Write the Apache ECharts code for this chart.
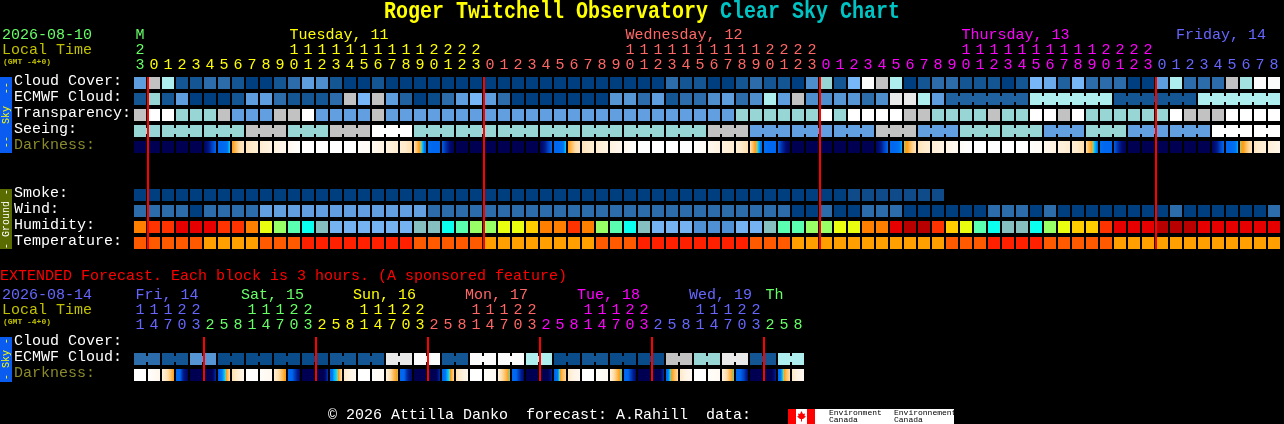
<!DOCTYPE html>
<html><head><meta charset="utf-8">
<style>html,body{margin:0;padding:0;background:#000}#c{width:1284px;height:424px}</style>
<script src="https://cdn.jsdelivr.net/npm/echarts@6/dist/echarts.min.js"></script>
</head><body><div id="c"></div>
<script>
// ---------- data ----------
const hoursMain = [23,
 0,1,2,3,4,5,6,7,8,9,10,11,12,13,14,15,16,17,18,19,20,21,22,23,
 0,1,2,3,4,5,6,7,8,9,10,11,12,13,14,15,16,17,18,19,20,21,22,23,
 0,1,2,3,4,5,6,7,8,9,10,11,12,13,14,15,16,17,18,19,20,21,22,23,
 0,1,2,3,4,5,6,7,8];
const dayNamesMain = {0:'M',11:'Tuesday, 11',35:'Wednesday, 12',59:'Thursday, 13',74:'Friday, 14'};
const dayBreaksMain = [0,1,25,49,73];
const midnightsMain = [1,25,49,73];
const rowsMain = ['Cloud Cover:','ECMWF Cloud:','Transparency:','Seeing:','Darkness:','',' ','Smoke:','Wind:','Humidity:','Temperature:'];

const cloudCover = [40,80,70,10,10,20,20,10,0,0, 10,20,40,30,10,0,0,10,0,0, 0,0,0,0,0,0,0,0,0,0, 0,0,0,0,0,0,0,0,20,10,
 10,0,0,10,20,10,10,0,30,60, 10,50,100,80,70,0,10,20,20,10, 10,10,0,10,50,45,15,50,20,20, 20,0,0,40,70,20,20,20,80,65, 100,100];
const ecmwfCloud = [10,60,10,40,0,0,0,10,40,40, 20,10,10,10,20,80,50,80,40,15, 0,5,20,40,50,40,20,0,0,0, 0,0,0,0,35,35,20,40,10,20,
 20,30,40,20,30,70,40,80,30,30, 35,35,20,30,90,90,70,40,15,15, 15,15,15,15,70,70,70,70,70,70, 10,10,10,10,10,10,70,70,70,70, 70,70];
const transparency = 'GWWTTTGBBB GGWBBBBGBB BBBBBBBBBB BBBBBBBBBB BBBTTTTTTW TWWWWGGTTT TGTTWWGWTT TTTTWGGGWW WW'.replace(/ /g,'').split('');
const seeing       = 'TTTTTTTTGG GTTTGGGWWW TTTTTTTTTT TTTTTTTTTT TGGGBBBBBB BBBGGGBBBT TTTTTBBBTT TBBBBBBWWW WW'.replace(/ /g,'').split('');
const smoke = [0,0,0,0,0,0,0,0,0,0, 0,0,0,0,0,0,0,0,0,0, 0,0,0,0,0,0,0,0,0,0, 0,0,0,0,0,0,0,0,0,0, 0,0,0,0,0,0,0,0,0,0, 0,1,1,1,1,1,1,1];
const wind = 'MMMMDMMMML LLLLLLLLLL LMMMMMMMMM MMMMMMMMMM MMMMMMMDDM DDMMMDDDDD DMMMDMDDDD DDDDMDDDDD DM'.replace(/ /g,'').split('');
const humidity = [70,75,75,80,80,80,75,75,70,60, 55,50,45,40,35,35,35,35,35,35, 40,40,45,50,55,55,60,60,65,70, 70,75,70,55,50,45,40,35,35,35,
 30,30,30,35,35,40,50,50,55,55, 60,60,70,70,80,85,85,75,65,60, 50,45,40,40,45,55,60,65,65,75, 80,80,80,85,85,85,80,80,80,80, 80,80];
const temperature = [73,73,73,73,73,64,64,64,64,73, 73,73,82,82,82,82,82,82,82,82, 73,73,73,73,73,64,64,64,64,64, 64,64,64,73,73,73,82,82,82,82,
 82,82,82,82,73,73,73,64,64,64, 64,64,64,64,64,64,64,64,73,73, 73,82,82,82,82,73,73,73,73,73, 64,64,64,64,64,64,64,64,64,64, 64,64];
const N=[0,0,0,0], W=[100,100,100,100];
const darkness = [N,N,N,N,N,[5,15,30,40],[40,40,42,50],[54,62,72,76],[74,77,80,82],[80,83,85,88],
 [85,88,90,92],[92,95,97,99],W,W,W,W,[99,97,96,95],[92,90,88,86],[86,84,82,80],[82,80,76,72],
 [72,58,50,42],[42,40,40,40],[38,25,10,2],N,N,N,N,N,N,[5,15,30,40],
 [40,40,42,50],[54,62,72,76],[74,77,80,82],[80,83,85,88],[85,88,90,92],[92,95,97,99],W,W,W,W,
 [99,97,96,95],[92,90,88,86],[86,84,82,80],[82,80,76,72],[72,58,50,42],[42,40,40,40],[38,25,10,2],N,N,N,
 N,N,N,[5,15,30,40],[40,40,42,48],[52,56,66,74],[74,77,80,82],[82,84,86,88],[88,90,92,93],[96,98,99,100],
 W,W,W,W,[99,97,96,95],[92,90,88,86],[86,84,82,80],[82,80,76,72],[70,58,50,44],[42,40,40,40],
 [38,25,10,2],N,N,N,N,N,N,[5,15,30,40],[40,40,42,48],[52,56,66,74],
 [76,79,82,84],[82,85,87,90]];

const hoursExt = [11,14,17,20,23, 2,5,8,11,14,17,20,23, 2,5,8,11,14,17,20,23, 2,5,8,11,14,17,20,23, 2,5,8,11,14,17,20,23, 2,5,8,11,14,17,20,23, 2,5,8];
const dayNamesExt = {0:'Fri, 14',8:'Sat, 15',16:'Sun, 16',24:'Mon, 17',32:'Tue, 18',40:'Wed, 19',45:'Th'};
const dayBreaksExt = [0,5,13,21,29,37,45];
const midnightsExt = [5,13,21,29,37,45];
const rowsExt = ['Cloud Cover:','ECMWF Cloud:','Darkness:'];
const ecmwfExt = [20,20,10,10,35,35,5,5,5,5,5,5,5,5,10,10,10,10,90,90,100,100,10,10,
 100,100,100,100,70,70,5,5,10,10,5,5,5,5,80,80,60,60,90,90,10,10,70,70];
const darknessExt = [W,[99,96,93,92],[85,75,65,54],[40,40,15,5],N,[0,0,0,25],[35,45,52,70],[72,78,85,90],
 W,[97,95,94,93],[82,72,62,53],[40,40,25,8],N,[0,0,0,28],[40,48,52,72],[78,84,90,92],
 W,[98,96,95,94],[85,72,60,52],[40,40,20,8],N,[0,0,0,25],[38,46,52,68],[72,80,86,90],
 W,[98,96,95,94],[85,70,60,50],[40,40,25,8],N,[0,0,0,20],[38,46,60,68],[78,85,90,92],
 W,[98,96,95,94],[85,70,58,50],[40,40,25,8],N,[0,0,0,25],[40,50,60,70],[78,85,90,93],
 W,[98,96,95,94],[85,72,60,50],[40,40,30,10],N,[0,0,0,20],[40,48,60,70],[78,85,90,93]];

// ---------- colour scales ----------
const cloudScale = ['#003f7f','#135693','#2c6cab','#4e8ecc','#5e9dde','#77b7f7','#98d5d5','#afeeee','#c2c2c2','#e9e9e9','#fbfbfb'];
const classScale = {B:'#619fe0',T:'#98d5d5',G:'#c2c2c2',W:'#ffffff'};
const windScale = {D:'#003f7f',M:'#2c6cab',L:'#619fe0'};
const smokeScale = ['#003f7f','#0e4b88'];
const humidityScale = {30:'#4f8fd3',35:'#74b2f2',40:'#85bfbf',45:'#0affee',50:'#5affb0',55:'#99ff66',60:'#eaff10',65:'#ffcc00',70:'#ff8000',75:'#ff3300',80:'#e60000',85:'#b80000'};
const tempScale = {64:'#ffa000',73:'#ff5a00',82:'#ff2000'};
const darkStops = [[0,'#000052'],[10,'#000a70'],[20,'#001f90'],[30,'#0040c0'],[40,'#0068f0'],[45,'#0078f0'],[48,'#00b0ff'],[50,'#10d0f0'],[52,'#a0d080'],[54,'#ff9a10'],[60,'#ffb850'],[70,'#ffdca8'],[80,'#ffeccf'],[90,'#fff6ea'],[100,'#ffffff']];
const hex = c => [1,3,5].map(k => parseInt(c.substr(k,2),16));
const mix = (a,b,t) => { const A=hex(a),B=hex(b); return 'rgb('+A.map((v,k)=>Math.round(v+(B[k]-v)*t)).join(',')+')'; };
const cloudColor = p => { const f=p/10, k=Math.min(Math.floor(f),9); return mix(cloudScale[k],cloudScale[k+1],f-k); };
const darkColor = v => { for(let k=0;k<darkStops.length-1;k++){const a=darkStops[k],b=darkStops[k+1]; if(v<=b[0]) return mix(a[1],b[1],(v-a[0])/(b[0]-a[0]));} return '#ffffff'; };

// ---------- rendering helpers ----------
const FONT = '"Liberation Mono", monospace';
const GREEN='#66ff66', YELLOW='#ffff00', SALMON='#ff6666', MAGENTA='#ff00ff', BLUE='#6666ff', OLIVE='#c0c000';
const breakColors = (breaks, cols) => i => { let c=cols[0]; breaks.forEach((b,k)=>{ if(i>=b) c=cols[k]; }); return c; };
const mainColor = breakColors(dayBreaksMain,[GREEN,YELLOW,SALMON,MAGENTA,BLUE]);
const extColor  = breakColors(dayBreaksExt,[BLUE,GREEN,YELLOW,SALMON,MAGENTA,BLUE,GREEN]);

function cellBox(api){
  const p = api.coord([api.value(0), api.value(1)]);
  return {x:p[0]-6, y:p[1]-6, w:12, h:12};
}
// joined(i) tells whether cell i is linked to cell i+1 by a narrow neck
function cellSeries(name, grid, row, vals, color, joined){
  const data = vals.map((v,i)=>[i,row,v]);
  return {type:'custom', name, xAxisIndex:grid.x, yAxisIndex:grid.y, silent:true, encode:{x:0,y:1}, data,
    renderItem:(p,api)=>{
      const b=cellBox(api), i=api.value(0), fill=color(vals[i]);
      const kids=[{type:'rect',shape:{x:b.x,y:b.y,width:b.w,height:b.h},style:{fill}}];
      if(joined && joined(i) && i<vals.length-1)
        kids.push({type:'rect',shape:{x:b.x+b.w,y:b.y+3,width:2,height:6},style:{fill}});
      return {type:'group',children:kids};
    }};
}
function darkSeries(name, grid, row, vals){
  return {type:'custom', name, xAxisIndex:grid.x, yAxisIndex:grid.y, silent:true, encode:{x:0,y:1},
    data: vals.map((v,i)=>[i,row].concat(v)),
    renderItem:(p,api)=>{
      const b=cellBox(api), s=[2,3,4,5].map(k=>api.value(k)), colorStops=[];
      for(let px=0;px<12;px++){
        const t=(px+.5)/12*3, k=Math.min(Math.floor(t),2), c=darkColor(s[k]+(s[k+1]-s[k])*(t-k));
        colorStops.push({offset:px/12,color:c},{offset:(px+1)/12,color:c});
      }
      return {type:'rect',shape:{x:b.x,y:b.y,width:b.w,height:b.h},
        style:{fill:new echarts.graphic.LinearGradient(0,0,1,0,colorStops)}};
    }};
}
function lineSeries(name, grid, idx, lastRow){
  return {type:'custom', name, xAxisIndex:grid.x, yAxisIndex:grid.y, silent:true, z:10, encode:{x:0,y:1},
    data: idx.map(i=>[i,0]),
    renderItem:(p,api)=>{
      const a=api.coord([api.value(0),0]), z=api.coord([api.value(0),lastRow]);
      return {type:'rect',shape:{x:a[0]-7,y:a[1]-6,width:2,height:z[1]-a[1]+12},style:{fill:'#ff0000'}};
    }};
}
function topAxis(gridIndex, data, offset, color, extra){
  return {type:'category', gridIndex, position:'top', offset, data,
    axisLine:{show:false}, axisTick:{show:false}, splitLine:{show:false},
    axisLabel:Object.assign({interval:0, margin:10, verticalAlign:'middle', color:(v,i)=>color(i),
      fontFamily:FONT, fontSize:15, fontWeight:'normal'}, extra||{})};
}
function rowAxis(gridIndex, data){
  return {type:'category', gridIndex, inverse:true, data,
    axisLine:{show:false}, axisTick:{show:false}, splitLine:{show:false},
    axisLabel:{interval:0, margin:119, align:'left', verticalAlign:'bottom', lineHeight:4, fontFamily:FONT, fontSize:15,
      color:v=> v==='Darkness:' ? '#8a8a2c' : '#ffffff'}};
}
const units = hs => hs.map(h=>String(h%10));
const tens = hs => hs.map(h=>h>=10?String(Math.floor(h/10)):'');
const sparse = (hs, names) => hs.map((h,i)=>names[i]||'');

const txt = (x,y,text,fill,size,extra) => Object.assign({type:'text',x,y,silent:true,
  style:{text,fill,font:(extra&&extra.bold?'bold ':'')+size+'px '+FONT,textVerticalAlign:'middle'}},(extra&&extra.el)||{});
const vtxt = (cx,cy,text,fill) => ({type:'text',x:cx,y:cy,rotation:Math.PI/2,silent:true,
  style:{text,fill,font:'10px '+FONT,textAlign:'center',textVerticalAlign:'middle'}});
const box = (x,y,w,h,fill) => ({type:'rect',silent:true,shape:{x,y,width:w,height:h},style:{fill}});

const graphics = [
  txt(384,12,'Roger Twitchell Observatory',YELLOW,20,{bold:true,el:{scaleY:1.15}}),
  txt(720,12,'Clear Sky Chart','#00c4c4',20,{bold:true,el:{scaleY:1.15}}),
  txt(2,35,'2026-08-10',GREEN,15), txt(2,50,'Local Time',OLIVE,15), txt(3,62,'(GMT -4+0)',OLIVE,8,{bold:true}),
  box(0,77,12,76,'#0a5cf0'), vtxt(6,115,'--  Sky  --',YELLOW),
  box(0,189,12,60,'#5a6c00'), vtxt(6,219,'- Ground -','#ffffff'),
  txt(0,276,'EXTENDED Forecast. Each block is 3 hours. (A sponsored feature)','#ff0000',15),
  txt(2,295,'2026-08-14',BLUE,15), txt(2,310,'Local Time',OLIVE,15), txt(3,322,'(GMT -4+0)',OLIVE,8,{bold:true}),
  box(0,337,12,45,'#0a5cf0'), vtxt(6,359,'- Sky -',YELLOW),
  txt(328,415,'\u00a9 2026 Attilla Danko  forecast: A.Rahill  data:','#ffffff',15),
  box(788,409,166,15,'#ffffff'), box(788,409,8,15,'#ff0000'), box(807,409,8,15,'#ff0000'),
  {type:'polygon',silent:true,shape:{points:[[801.5,411],[803,414],[805,413.5],[804.5,416],[806,416.5],[803,419],[802,419],[802,421.5],[801,421.5],[801,419],[800,419],[797,416.5],[798.5,416],[798,413.5],[800,414]]},style:{fill:'#ff0000'}},
  txt(829,413,'Environment','#000000',8), txt(829,420,'Canada','#000000',8),
  txt(894,413,'Environnement','#000000',8), txt(894,420,'Canada','#000000',8)
];

const G1={x:0,y:0}, G2={x:3,y:1};
const chart = echarts.init(document.getElementById('c'),null,{renderer:'canvas',width:1284,height:424});
chart.setOption({
  animation:false, backgroundColor:'#000000', tooltip:{show:false}, legend:{show:false},
  grid:[{left:133,top:75,width:1148,height:176},{left:133,top:335,width:672,height:48}],
  xAxis:[
    topAxis(0,units(hoursMain),0,mainColor),
    topAxis(0,tens(hoursMain),15,mainColor),
    topAxis(0,sparse(hoursMain,dayNamesMain),30,mainColor,{align:'left',padding:[0,0,0,-4.5],
      formatter:v=>v.indexOf('Friday')===0?'{n|'+v+'}':v, rich:{n:{padding:[0,0,0,4.5],fontFamily:FONT,fontSize:15}}}),
    topAxis(1,units(hoursExt),0,extColor),
    topAxis(1,tens(hoursExt),15,extColor),
    topAxis(1,sparse(hoursExt,dayNamesExt),30,extColor,{align:'left',padding:[0,0,0,-11],
      formatter:v=>(v==='Th'||v.indexOf('Fri')===0)?'{n|'+v+'}':v, rich:{n:{padding:[0,0,0,6.5],fontFamily:FONT,fontSize:15}}})
  ],
  yAxis:[rowAxis(0,rowsMain),rowAxis(1,rowsExt)],
  graphic:{elements:graphics},
  series:[
    cellSeries('Cloud Cover',G1,0,cloudCover,cloudColor),
    cellSeries('ECMWF Cloud',G1,1,ecmwfCloud,cloudColor,i=>i>=58&&(i-58)%6!==5),
    cellSeries('Transparency',G1,2,transparency,c=>classScale[c]),
    cellSeries('Seeing',G1,3,seeing,c=>classScale[c],i=>(i+1)%3!==2),
    darkSeries('Darkness',G1,4,darkness),
    cellSeries('Smoke',G1,7,smoke,v=>smokeScale[v]),
    cellSeries('Wind',G1,8,wind,c=>windScale[c]),
    cellSeries('Humidity',G1,9,humidity,v=>humidityScale[v]),
    cellSeries('Temperature',G1,10,temperature,v=>tempScale[v]),
    lineSeries('Midnight',G1,midnightsMain,10),
    cellSeries('ECMWF Cloud (extended)',G2,1,ecmwfExt,cloudColor,i=>i%2===0),
    darkSeries('Darkness (extended)',G2,2,darknessExt),
    lineSeries('Midnight (extended)',G2,midnightsExt,2)
  ]
});
</script></body></html>
